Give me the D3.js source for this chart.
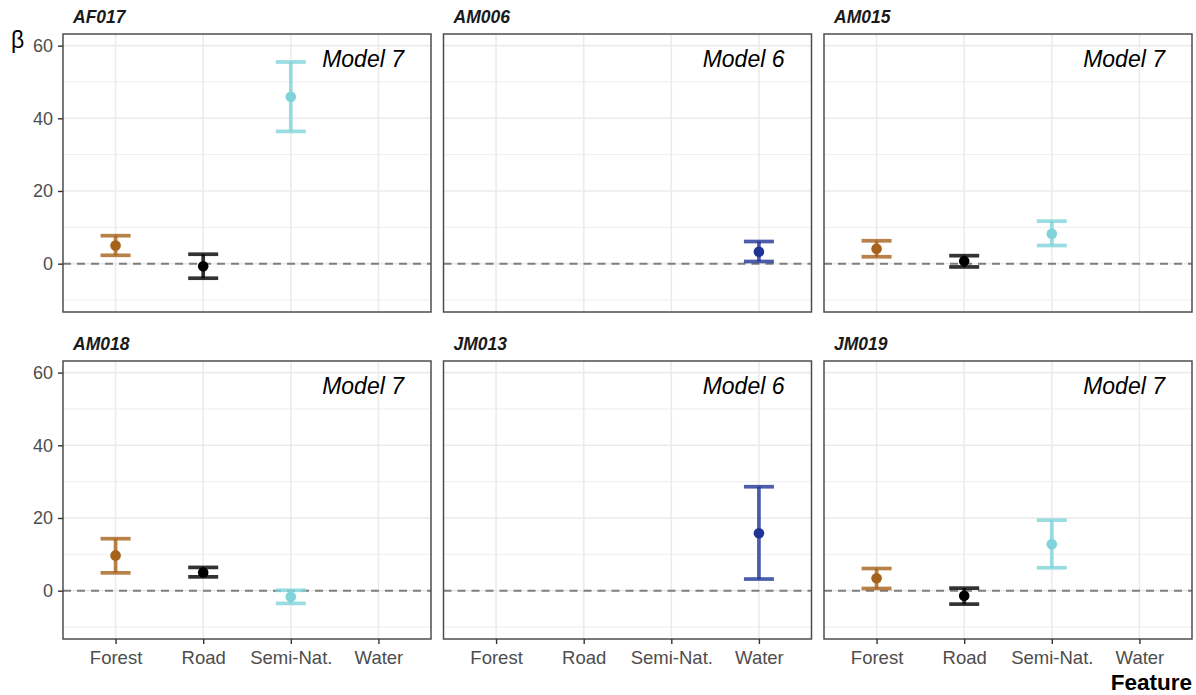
<!DOCTYPE html>
<html>
<head>
<meta charset="utf-8">
<script src="https://cdn.jsdelivr.net/npm/d3@7"></script>
<style>
  body { margin: 0; background: #fff; }
  text { font-family: "Liberation Sans", Arial, sans-serif; }
</style>
</head>
<body>
<svg id="drawing_region"></svg>
<script>
// facets
const panels = ["AF017", "AM006", "AM015", "AM018", "JM013", "JM019"];
const modelLabels = ["Model 7", "Model 6", "Model 7", "Model 7", "Model 6", "Model 7"];
const features = ["Forest", "Road", "Semi-Nat.", "Water"];
const featureColors = ["#a6611a", "#000000", "#7fd3da", "#1f3596"];
const yTicks = [0, 20, 40, 60];
const yMinor = [-10, 10, 30, 50];

// estimates with confidence intervals
const pointPanel   = ["AF017", "AF017", "AF017", "AM006", "AM015", "AM015", "AM015", "AM018", "AM018", "AM018", "JM013", "JM019", "JM019", "JM019"];
const pointFeature = ["Forest", "Road", "Semi-Nat.", "Water", "Forest", "Road", "Semi-Nat.", "Forest", "Road", "Semi-Nat.", "Water", "Forest", "Road", "Semi-Nat."];
const estimate     = [5.0, -0.7, 45.9, 3.3, 4.1, 0.7, 8.2, 9.7, 5.0, -1.7, 15.8, 3.4, -1.4, 12.8];
const lower        = [2.3, -4.0, 36.4, 0.6, 1.9, -0.9, 5.0, 4.9, 3.8, -3.5, 3.2, 0.6, -3.7, 6.3];
const upper        = [7.7, 2.6, 55.5, 6.1, 6.3, 2.2, 11.7, 14.3, 6.4, 0.1, 28.6, 6.1, 0.7, 19.4];

const config = {
    width: 1196,
    height: 695,
    left: 63,
    top: 34,
    panelWidth: 368,
    panelHeight: 278,
    colStep: 380.5,
    rowStep: 327
};

const svg = d3.select("#drawing_region")
    .attr("width", config.width)
    .attr("height", config.height);

const xscale = d3.scalePoint()
    .domain(features)
    .range([0, config.panelWidth])
    .padding(0.6);

const yscale = d3.scaleLinear()
    .domain([-13.3, 63.2])
    .range([config.panelHeight, 0]);

const color = d3.scaleOrdinal().domain(features).range(featureColors);

const data = pointPanel.map((p, i) => ({
    panel: p, feature: pointFeature[i], est: estimate[i], lo: lower[i], hi: upper[i]
}));

panels.forEach((name, k) => {
    const col = k % 3, row = Math.floor(k / 3);
    const g = svg.append("g")
        .attr("transform", `translate(${config.left + col * config.colStep}, ${config.top + row * config.rowStep})`);

    // grid
    g.selectAll(".minor").data(yMinor).enter().append("line")
        .attr("x1", 0).attr("x2", config.panelWidth)
        .attr("y1", d => yscale(d)).attr("y2", d => yscale(d))
        .attr("stroke", "#ebebeb").attr("stroke-width", 0.9);
    g.selectAll(".major").data(yTicks).enter().append("line")
        .attr("x1", 0).attr("x2", config.panelWidth)
        .attr("y1", d => yscale(d)).attr("y2", d => yscale(d))
        .attr("stroke", "#ebebeb").attr("stroke-width", 1.6);
    g.selectAll(".vgrid").data(features).enter().append("line")
        .attr("x1", d => xscale(d)).attr("x2", d => xscale(d))
        .attr("y1", 0).attr("y2", config.panelHeight)
        .attr("stroke", "#ebebeb").attr("stroke-width", 1.6);

    // zero line
    g.append("line")
        .attr("x1", 0).attr("x2", config.panelWidth)
        .attr("y1", yscale(0)).attr("y2", yscale(0))
        .attr("stroke", "#7f7f7f").attr("stroke-width", 2)
        .attr("stroke-dasharray", "8,6");

    const pd = data.filter(d => d.panel === name);
    const cap = 15;
    const bars = g.selectAll(".bar").data(pd).enter().append("g")
        .attr("stroke", d => color(d.feature))
        .attr("stroke-opacity", 0.8)
        .attr("stroke-width", 3.7);
    bars.append("line")
        .attr("x1", d => xscale(d.feature)).attr("x2", d => xscale(d.feature))
        .attr("y1", d => yscale(d.lo)).attr("y2", d => yscale(d.hi));
    bars.append("line")
        .attr("x1", d => xscale(d.feature) - cap).attr("x2", d => xscale(d.feature) + cap)
        .attr("y1", d => yscale(d.lo)).attr("y2", d => yscale(d.lo));
    bars.append("line")
        .attr("x1", d => xscale(d.feature) - cap).attr("x2", d => xscale(d.feature) + cap)
        .attr("y1", d => yscale(d.hi)).attr("y2", d => yscale(d.hi));
    g.selectAll(".pt").data(pd).enter().append("circle")
        .attr("cx", d => xscale(d.feature))
        .attr("cy", d => yscale(d.est))
        .attr("r", 5.3)
        .attr("fill", d => color(d.feature));

    // border
    g.append("rect")
        .attr("width", config.panelWidth).attr("height", config.panelHeight)
        .attr("fill", "none").attr("stroke", "#4d4d4d").attr("stroke-width", 1.5);

    // strip title
    g.append("text")
        .attr("x", 10).attr("y", -11.5)
        .attr("font-size", "17.5px").attr("font-weight", "bold").attr("font-style", "italic")
        .attr("fill", "#1a1a1a")
        .text(name);

    // model label
    g.append("text")
        .attr("x", config.panelWidth - 27).attr("y", 33)
        .attr("text-anchor", "end")
        .attr("font-size", "23px").attr("font-style", "italic")
        .attr("fill", "#000")
        .text(modelLabels[k]);

    if (col === 0) {
        const yaxis = g.append("g")
            .call(d3.axisLeft(yscale).tickValues(yTicks).tickSize(5).tickPadding(5).tickSizeOuter(0));
        yaxis.select(".domain").remove();
        yaxis.selectAll(".tick line").attr("stroke", "#333").attr("stroke-width", 1.4);
        yaxis.selectAll(".tick text").attr("fill", "#4d4d4d").attr("font-size", "18px")
            .attr("font-family", "Liberation Sans, Arial, sans-serif");
    }
    if (row === 1) {
        const xaxis = g.append("g")
            .attr("transform", `translate(0, ${config.panelHeight})`)
            .call(d3.axisBottom(xscale).tickSize(5).tickPadding(7).tickSizeOuter(0));
        xaxis.select(".domain").remove();
        xaxis.selectAll(".tick line").attr("stroke", "#333").attr("stroke-width", 1.4);
        xaxis.selectAll(".tick text").attr("fill", "#4d4d4d").attr("font-size", "18.5px")
            .attr("font-family", "Liberation Sans, Arial, sans-serif");
    }
});

// axis titles
svg.append("text")
    .attr("x", 11).attr("y", 48)
    .attr("font-size", "23px").attr("fill", "#000")
    .attr("font-family", "Liberation Serif, DejaVu Serif, serif")
    .text("β");

svg.append("text")
    .attr("x", 1192).attr("y", 690)
    .attr("text-anchor", "end")
    .attr("font-size", "22.5px").attr("font-weight", "bold").attr("fill", "#000")
    .text("Feature");
</script>
</body>
</html>
